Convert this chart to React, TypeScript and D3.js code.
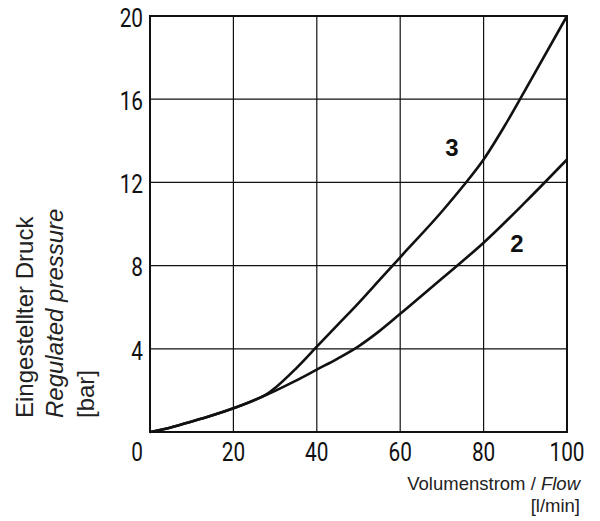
import React from "react";
import * as d3 from "d3";

const xTicks = [20, 40, 60, 80, 100];
const yTicks = [4, 8, 12, 16, 20];
const xGrid = [20, 40, 60, 80];
const yGrid = [4, 8, 12, 16];

const flow2 = [0, 5, 10, 15, 20, 25, 30, 35, 40, 45, 50, 55, 60, 70, 80, 90, 100];
const pressure2 = [0, 0.22, 0.5, 0.8, 1.14, 1.53, 1.98, 2.47, 3.0, 3.53, 4.12, 4.85, 5.68, 7.38, 9.1, 11.05, 13.1];

const flow3 = [0, 5, 10, 15, 20, 25, 28, 30, 35, 40, 45, 50, 55, 60, 70, 75, 80, 85, 90, 100];
const pressure3 = [0, 0.22, 0.5, 0.8, 1.14, 1.53, 1.82, 2.12, 3.05, 4.1, 5.15, 6.2, 7.3, 8.4, 10.6, 11.8, 13.1, 14.7, 16.45, 20];

const curveLabels = ["3", "2"];
const labelFlow = [72.4, 88.0];
const labelPressure = [13.7, 9.05];

const W = 600;
const H = 521;
const left = 150;
const right = 567;
const top = 16;
const bottom = 432;

export default function App() {
  const x = d3.scaleLinear().domain([0, 100]).range([left, right]);
  const y = d3.scaleLinear().domain([0, 20]).range([bottom, top]);
  const line = d3
    .line<[number, number]>()
    .x((d) => x(d[0]))
    .y((d) => y(d[1]))
    .curve(d3.curveMonotoneX);
  const s2 = flow2.map((f, i) => [f, pressure2[i]] as [number, number]);
  const s3 = flow3.map((f, i) => [f, pressure3[i]] as [number, number]);
  const tickFont = "Roboto, 'Liberation Sans', sans-serif";
  const sans = "'Liberation Sans', Arial, sans-serif";
  const tick = (key: string, tx: number, ty: number, anchor: string, label: string | number) => (
    <text
      key={key}
      transform={`translate(${tx},${ty}) scale(0.8,1)`}
      textAnchor={anchor}
      dominantBaseline="central"
      fontFamily={tickFont}
      fontWeight={400}
      fontSize={26}
      fill="#111"
    >
      {label}
    </text>
  );
  return (
    <svg
      width={W}
      height={H}
      style={{ position: "absolute", left: 0, top: 0, background: "#fff" }}
    >
      <rect x={0} y={0} width={W} height={H} fill="#fff" />
      {xGrid.map((v) => (
        <line key={"gx" + v} x1={x(v)} x2={x(v)} y1={y(0)} y2={y(20)} stroke="#111" strokeWidth={1.2} />
      ))}
      {yGrid.map((v) => (
        <line key={"gy" + v} x1={x(0)} x2={x(100)} y1={y(v)} y2={y(v)} stroke="#111" strokeWidth={1.2} />
      ))}
      <rect
        x={x(0)}
        y={y(20)}
        width={x(100) - x(0)}
        height={y(0) - y(20)}
        fill="none"
        stroke="#111"
        strokeWidth={2}
      />
      <path d={line(s2) || ""} fill="none" stroke="#111" strokeWidth={2.6} />
      <path d={line(s3) || ""} fill="none" stroke="#111" strokeWidth={2.6} />
      {curveLabels.map((l, i) => (
        <text
          key={"cl" + l}
          x={x(labelFlow[i])}
          y={y(labelPressure[i])}
          textAnchor="middle"
          dominantBaseline="central"
          fontFamily={sans}
          fontWeight="bold"
          fontSize={24}
          fill="#111"
        >
          {l}
        </text>
      ))}
      {yTicks.map((v) => tick("yt" + v, 143, y(v) + 2, "end", v))}
      {tick("x0", 143, 452, "end", 0)}
      {xTicks.map((v) => tick("xt" + v, x(v), 452, "middle", v))}
      <text x={580} y={490} textAnchor="end" fontFamily={sans} fontSize={18.5} fill="#222">
        Volumenstrom / <tspan fontStyle="italic">Flow</tspan>
      </text>
      <text x={580} y={512} textAnchor="end" fontFamily={sans} fontSize={18.5} fill="#222">
        [l/min]
      </text>
      <g fontFamily={sans} fontSize={24} fill="#222">
        <text transform="translate(33,418) rotate(-90)">Eingestellter Druck</text>
        <text transform="translate(63,418) rotate(-90)" fontStyle="italic">
          Regulated pressure
        </text>
        <text transform="translate(94,418) rotate(-90)">[bar]</text>
      </g>
    </svg>
  );
}
